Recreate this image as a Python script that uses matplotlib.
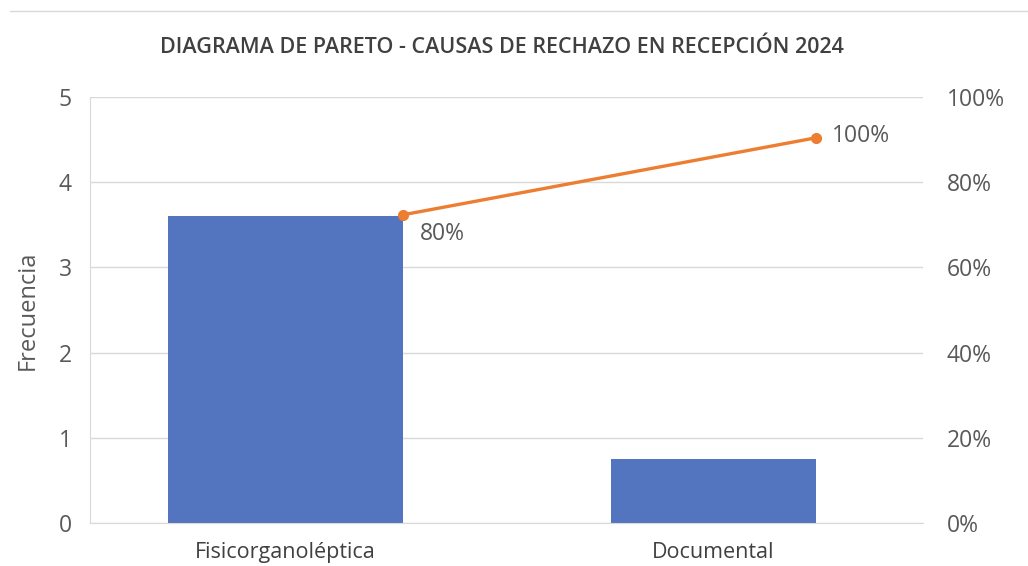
import matplotlib
matplotlib.use("Agg")
import matplotlib.pyplot as plt
from matplotlib.lines import Line2D

categories = ["Fisicorganoléptica", "Documental"]
frecuencia = [3.6, 0.75]
acumulado_pct = [80, 100]
acum_labels = ["80%", "100%"]
left_ticks = [0, 1, 2, 3, 4, 5]
right_tick_labels = ["0%", "20%", "40%", "60%", "80%", "100%"]

BAR = "#5374BE"
ORANGE = "#ED7D31"
GRID = "#D9D9D9"
TXT = "#595959"
FONT = ["Open Sans", "DejaVu Sans"]
plt.rcParams["font.family"] = FONT

fig = plt.figure(figsize=(10.28, 5.66), dpi=100)
fig.patch.set_facecolor("white")
ax = fig.add_axes([0.0875, 0.0765, 0.8105, 0.7515])

xs = list(range(len(categories)))
widths = [0.55, 0.48]
ax.bar(xs, frecuencia, width=widths, color=BAR, zorder=2)
ax.set_xlim(-0.457, 1.49)
ax.set_ylim(0, 5)
ax.set_yticks(left_ticks)
ax.set_yticklabels([str(t) for t in left_ticks])
ax.yaxis.grid(True, color=GRID, linewidth=1.0, zorder=0)
ax.set_axisbelow(True)
for s in ["top", "right"]:
    ax.spines[s].set_visible(False)
ax.spines["left"].set_color(GRID)
ax.spines["bottom"].set_color(GRID)
ax.tick_params(axis="y", length=0, pad=13, labelsize=16.5, labelcolor=TXT)
ax.tick_params(axis="x", length=0, pad=14, labelsize=15.5, labelcolor="#404040")
ax.set_xticks(xs)
ax.set_xticklabels(categories)
ax.set_ylabel("Frecuencia", fontsize=17, color=TXT, labelpad=14)

# visible right percentage axis
axr = ax.twinx()
axr.set_ylim(0, 100)
axr.set_yticks([0, 20, 40, 60, 80, 100])
axr.set_yticklabels(right_tick_labels)
axr.tick_params(axis="y", length=0, pad=17, labelsize=16.5, labelcolor=TXT)
for s in axr.spines.values():
    s.set_visible(False)

# cumulative line on its own scale
axl = ax.twinx()
axl.set_ylim(0, 110.5)
axl.set_yticks([])
for s in axl.spines.values():
    s.set_visible(False)
lx = [x + w / 2 for x, w in zip(xs, widths)]
axl.plot(lx, acumulado_pct, color=ORANGE, linewidth=2.4, marker="o",
         markersize=7, zorder=3, clip_on=False)
axl.annotate(acum_labels[0], (lx[0], acumulado_pct[0]), xytext=(12, -14),
             textcoords="offset points", fontsize=16.5, color=TXT,
             ha="left", va="center")
axl.annotate(acum_labels[1], (lx[1], acumulado_pct[1]), xytext=(11.5, 1.5),
             textcoords="offset points", fontsize=16.5, color=TXT,
             ha="left", va="center")

fig.text(0.488, 0.916, "DIAGRAMA DE PARETO - CAUSAS DE RECHAZO EN RECEPCIÓN 2024",
         ha="center", va="center", fontsize=15.5, fontweight="semibold",
         color="#404040")

fig.add_artist(Line2D([0.01, 1.0], [0.981, 0.981], transform=fig.transFigure,
                      color="#D9D9D9", linewidth=1.0))

fig.savefig("out.png", dpi=100, facecolor="white")
